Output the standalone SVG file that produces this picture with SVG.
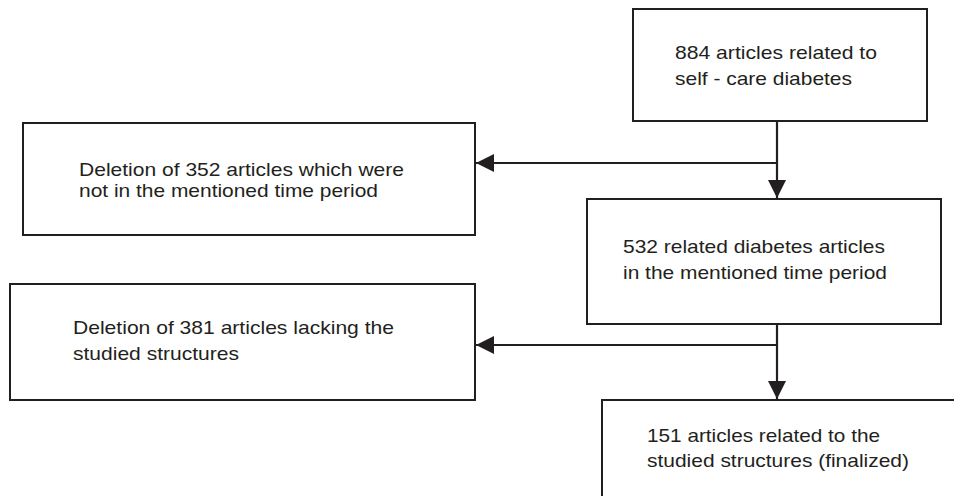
<svg xmlns="http://www.w3.org/2000/svg" width="954" height="496" viewBox="0 0 954 496">
<style>
.box{fill:#fff;stroke:#231f20;stroke-width:2}
.lbl{font-family:"Liberation Sans",Arial,sans-serif;font-size:18.6px;fill:#231f20}
.con{fill:none;stroke:#231f20;stroke-width:2.2}
</style>
<defs>
<marker id="ah" markerUnits="userSpaceOnUse" markerWidth="18" markerHeight="18" viewBox="0 0 16 16" refX="16" refY="8" orient="auto">
<path d="M0,0 L16,8 L0,16 Z" fill="#231f20"/>
</marker>
</defs>
<rect width="954" height="496" fill="#fff"/>
<g id="connectors">
<line class="con" x1="777" y1="121" x2="777" y2="198" marker-end="url(#ah)"/>
<line class="con" x1="777" y1="163" x2="476" y2="163" marker-end="url(#ah)"/>
<line class="con" x1="777" y1="324" x2="777" y2="399" marker-end="url(#ah)"/>
<line class="con" x1="777" y1="345" x2="476" y2="345" marker-end="url(#ah)"/>
</g>
<g id="n1">
<rect class="box" x="633" y="9" width="294" height="112"/>
<text class="lbl" x="675" y="59" textLength="202" lengthAdjust="spacingAndGlyphs">884 articles related to</text>
<text class="lbl" x="675" y="85" textLength="177" lengthAdjust="spacingAndGlyphs">self - care diabetes</text>
</g>
<g id="n2">
<rect class="box" x="23" y="123" width="452" height="112"/>
<text class="lbl" x="79" y="176" textLength="325" lengthAdjust="spacingAndGlyphs">Deletion of 352 articles which were</text>
<text class="lbl" x="79" y="197" textLength="299" lengthAdjust="spacingAndGlyphs">not in the mentioned time period</text>
</g>
<g id="n3">
<rect class="box" x="587" y="199" width="354" height="125"/>
<text class="lbl" x="623" y="253" textLength="262" lengthAdjust="spacingAndGlyphs">532 related diabetes articles</text>
<text class="lbl" x="623" y="279" textLength="264" lengthAdjust="spacingAndGlyphs">in the mentioned time period</text>
</g>
<g id="n4">
<rect class="box" x="10" y="284" width="465" height="116"/>
<text class="lbl" x="73" y="334" textLength="321" lengthAdjust="spacingAndGlyphs">Deletion of 381 articles lacking the</text>
<text class="lbl" x="73" y="360" textLength="166" lengthAdjust="spacingAndGlyphs">studied structures</text>
</g>
<g id="n5">
<rect class="box" x="602" y="400" width="370" height="120"/>
<text class="lbl" x="647" y="442" textLength="233" lengthAdjust="spacingAndGlyphs">151 articles related to the</text>
<text class="lbl" x="647" y="467" textLength="262" lengthAdjust="spacingAndGlyphs">studied structures (finalized)</text>
</g>
</svg>
